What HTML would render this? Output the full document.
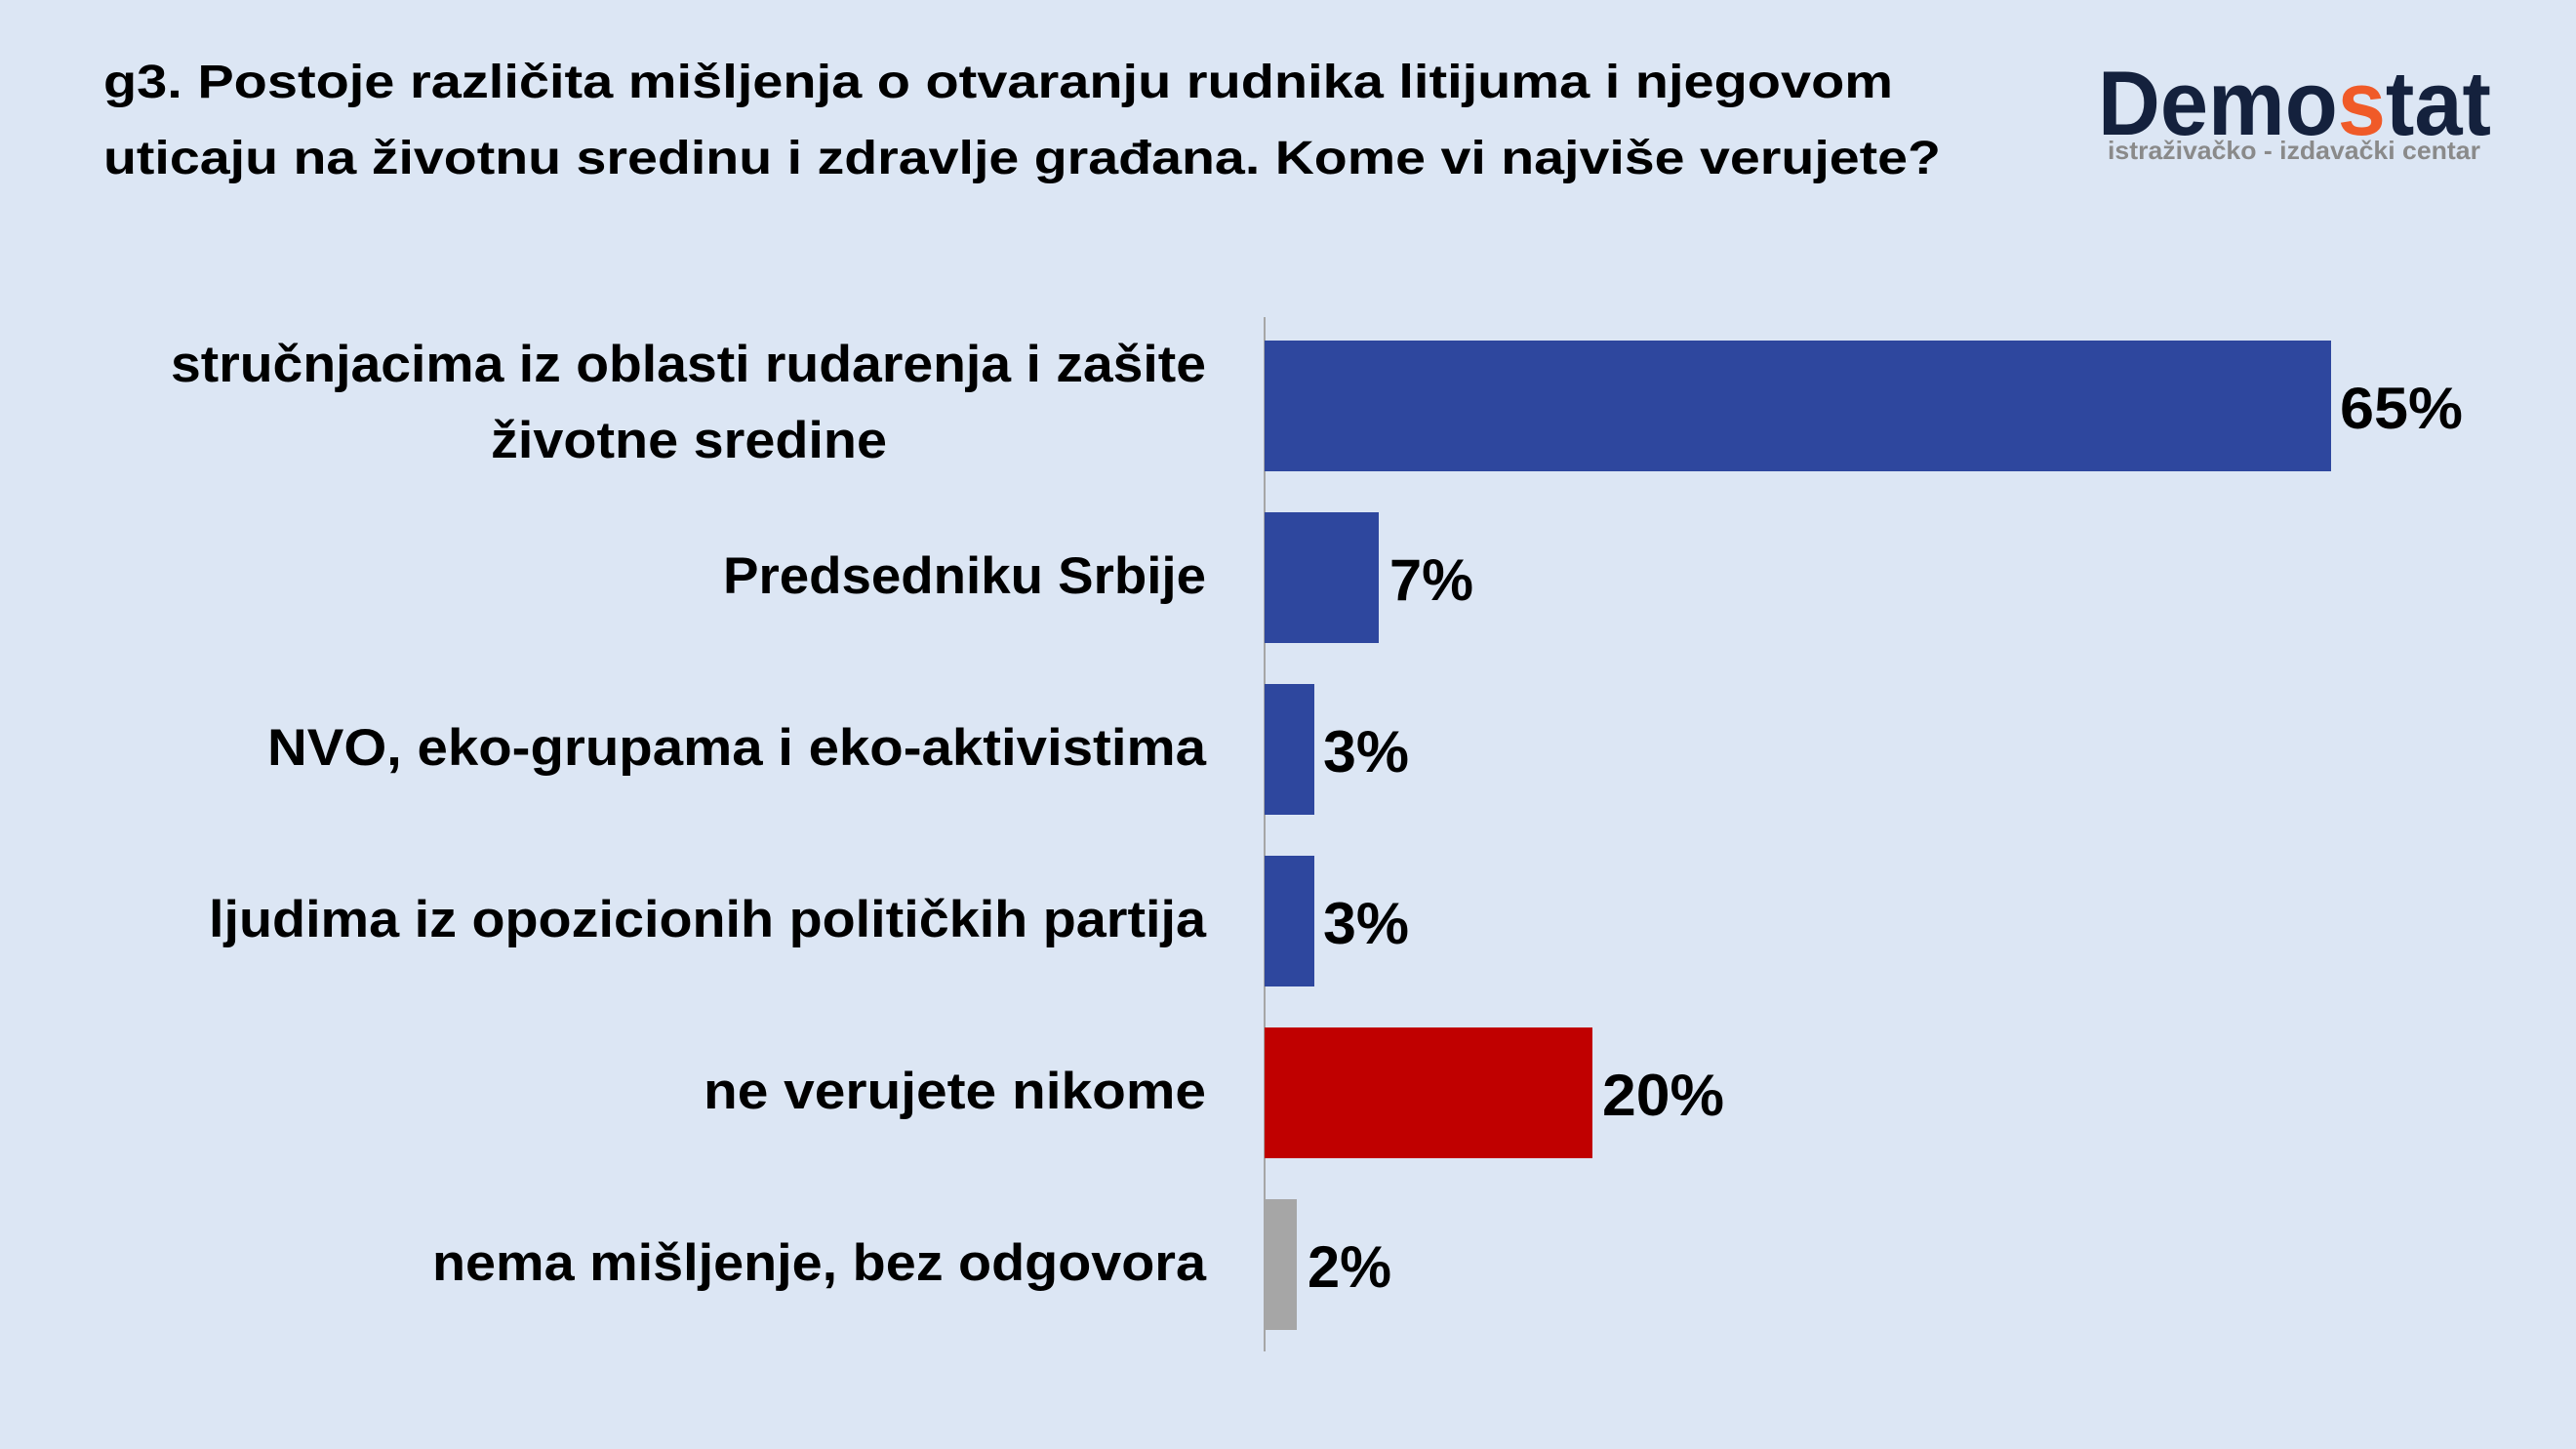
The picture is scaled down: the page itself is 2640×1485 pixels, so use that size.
<!DOCTYPE html>
<html><head><meta charset="utf-8"><style>
body{margin:0;background:#DCE6F4;}
svg{display:block}
</style></head><body>
<svg width="2640" height="1485" viewBox="0 0 2640 1485" xmlns="http://www.w3.org/2000/svg">
<rect width="2640" height="1485" fill="#DCE6F4"/>
<g font-family="Liberation Sans, sans-serif" font-weight="bold" fill="#000">
<text x="106" y="100" font-size="48" textLength="1834" lengthAdjust="spacingAndGlyphs">g3. Postoje različita mišljenja o otvaranju rudnika litijuma i njegovom</text>
<text x="106" y="178" font-size="48" textLength="1883" lengthAdjust="spacingAndGlyphs">uticaju na životnu sredinu i zdravlje građana. Kome vi najviše verujete?</text>
</g>
<g font-family="Liberation Sans, sans-serif" font-weight="bold">
<text x="2150" y="138" font-size="94" fill="#14213D" textLength="403" lengthAdjust="spacingAndGlyphs">Demo<tspan fill="#F05A28">s</tspan>tat</text>
<text x="2160" y="163" font-size="26" fill="#8A8A8A" textLength="382" lengthAdjust="spacingAndGlyphs">istraživačko - izdavački  centar</text>
</g>
<line x1="1296" y1="325" x2="1296" y2="1385" stroke="#A6A6A6" stroke-width="2"/>
<rect x="1296" y="349" width="1093" height="134" fill="#2E479E"/>
<rect x="1296" y="525" width="117" height="134" fill="#2E479E"/>
<rect x="1296" y="701" width="51" height="134" fill="#2E479E"/>
<rect x="1296" y="877" width="51" height="134" fill="#2E479E"/>
<rect x="1296" y="1053" width="336" height="134" fill="#C00000"/>
<rect x="1296" y="1229" width="33" height="134" fill="#A6A6A6"/>
<g font-family="Liberation Sans, sans-serif" font-weight="bold" font-size="53" fill="#000" lengthAdjust="spacingAndGlyphs">
<text x="175" y="391" textLength="1061" lengthAdjust="spacingAndGlyphs">stručnjacima iz oblasti rudarenja i zašite</text>
<text x="503" y="469" textLength="406" lengthAdjust="spacingAndGlyphs">životne sredine</text>
<text x="741" y="608" textLength="495" lengthAdjust="spacingAndGlyphs">Predsedniku Srbije</text>
<text x="274" y="784" textLength="962" lengthAdjust="spacingAndGlyphs">NVO, eko-grupama i eko-aktivistima</text>
<text x="214" y="960" textLength="1022" lengthAdjust="spacingAndGlyphs">ljudima iz opozicionih političkih partija</text>
<text x="721" y="1136" textLength="515" lengthAdjust="spacingAndGlyphs">ne verujete nikome</text>
<text x="443" y="1312" textLength="793" lengthAdjust="spacingAndGlyphs">nema mišljenje, bez odgovora</text>
</g>
<g font-family="Liberation Sans, sans-serif" font-weight="bold" font-size="60" fill="#000">
<text x="2398" y="439" textLength="126" lengthAdjust="spacingAndGlyphs">65%</text>
<text x="1424" y="615" textLength="86" lengthAdjust="spacingAndGlyphs">7%</text>
<text x="1356" y="791" textLength="88" lengthAdjust="spacingAndGlyphs">3%</text>
<text x="1356" y="967" textLength="88" lengthAdjust="spacingAndGlyphs">3%</text>
<text x="1642" y="1143" textLength="125" lengthAdjust="spacingAndGlyphs">20%</text>
<text x="1340" y="1319" textLength="86" lengthAdjust="spacingAndGlyphs">2%</text>
</g>
</svg>
</body></html>
